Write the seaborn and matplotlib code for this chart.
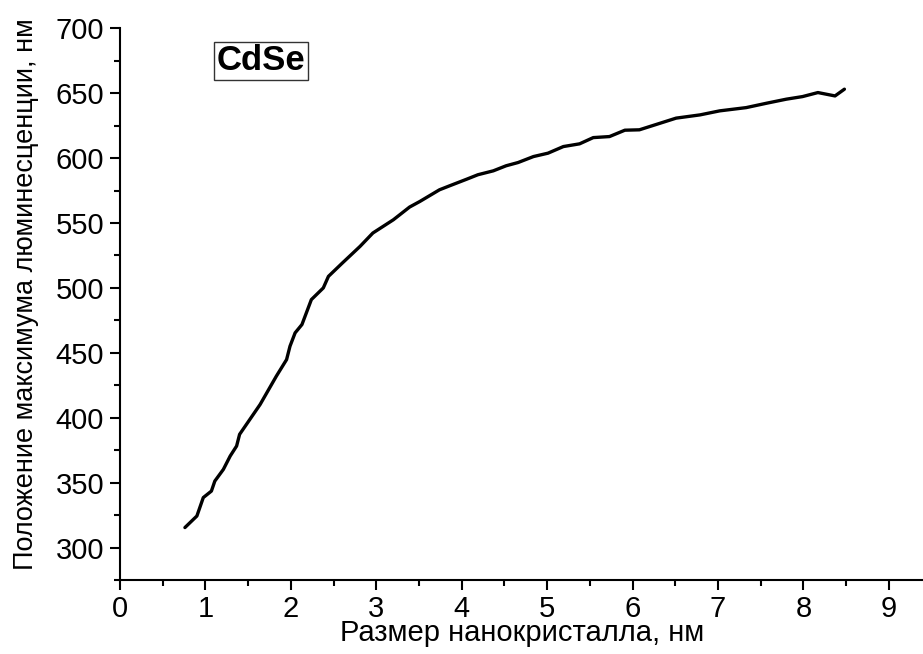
import numpy as np
import pandas as pd
import matplotlib
matplotlib.use("Agg")
import matplotlib.pyplot as plt
from matplotlib.ticker import MultipleLocator
import seaborn as sns

size_nm = [0.76, 0.90, 0.975, 1.07, 1.11, 1.21, 1.29, 1.365, 1.40, 1.52, 1.64, 1.83,
           1.95, 1.99, 2.05, 2.13, 2.24, 2.38, 2.44, 2.60, 2.81, 2.96, 3.20, 3.39,
           3.51, 3.74, 3.86, 4.06, 4.19, 4.37, 4.52, 4.66, 4.84, 5.01, 5.19, 5.38,
           5.54, 5.73, 5.91, 6.08, 6.30, 6.51, 6.79, 7.02, 7.33, 7.57, 7.80, 7.99,
           8.17, 8.37, 8.48]
peak_nm = [315.4, 324.3, 338.5, 343.5, 351.2, 360.2, 370.5, 378.2, 387.2, 398.7, 410.2, 432.0,
           444.8, 455.1, 465.4, 471.8, 491.0, 500.0, 508.9, 519.0, 532.0, 542.3, 552.5, 562.3,
           566.6, 575.6, 578.7, 583.8, 587.2, 590.2, 594.1, 596.6, 601.2, 603.8, 608.9, 611.0,
           615.8, 616.6, 621.5, 621.8, 626.4, 630.8, 633.3, 636.4, 638.9, 642.3, 645.4, 647.4,
           650.5, 647.9, 653.1]

x_ticks = [0, 1, 2, 3, 4, 5, 6, 7, 8, 9]
y_ticks = [300, 350, 400, 450, 500, 550, 600, 650, 700]
x_label = "Размер нанокристалла, нм"
y_label = "Положение максимума люминесценции, нм"
title_text = "CdSe"

sns.set_style("white")
plt.rcParams["font.family"] = ["Liberation Sans", "DejaVu Sans"]
plt.rcParams["text.color"] = "black"
plt.rcParams["axes.labelcolor"] = "black"

df = pd.DataFrame({"size": size_nm, "peak": peak_nm})

fig = plt.figure(figsize=(9.23, 6.54), dpi=100)
ax = fig.add_axes([120 / 923, 1 - 580 / 654, 803 / 923, (580 - 28.3) / 654])

sns.lineplot(data=df, x="size", y="peak", ax=ax, color="black", linewidth=2.4,
             sort=False, estimator=None)

ax.set_xlim(0, 9.4)
ax.set_ylim(275, 700)
ax.set_xticks(x_ticks)
ax.set_yticks(y_ticks)
ax.xaxis.set_minor_locator(MultipleLocator(0.5))
ax.yaxis.set_minor_locator(MultipleLocator(25))

for s in ["top", "right"]:
    ax.spines[s].set_visible(False)
for s in ["left", "bottom"]:
    ax.spines[s].set_linewidth(1.5)
    ax.spines[s].set_color("black")

ax.tick_params(axis="both", which="major", direction="out", length=7.5, width=1.5,
               labelsize=21, colors="black", labelcolor="black", bottom=True, left=True)
ax.tick_params(axis="both", which="minor", direction="out", length=4.5, width=1.5,
               colors="black", bottom=True, left=True)
ax.tick_params(axis="x", which="major", pad=3)
ax.tick_params(axis="y", which="major", pad=4)

ax.set_xlabel(x_label, fontsize=21, color="black")
ax.set_ylabel(y_label, fontsize=19.5, color="black")
ax.xaxis.set_label_coords(0.501, -0.07)
ax.yaxis.set_label_coords(-0.1009, 0.518)

ax.text(261 / 923, 1 - 61 / 654, title_text, transform=fig.transFigure,
        fontsize=25, fontweight="bold", ha="center", va="center", color="black",
        bbox=dict(boxstyle="square,pad=0.08", facecolor="white", edgecolor="#333333",
                  linewidth=1.0))

ax.grid(False)
fig.savefig("out.png", dpi=100)
